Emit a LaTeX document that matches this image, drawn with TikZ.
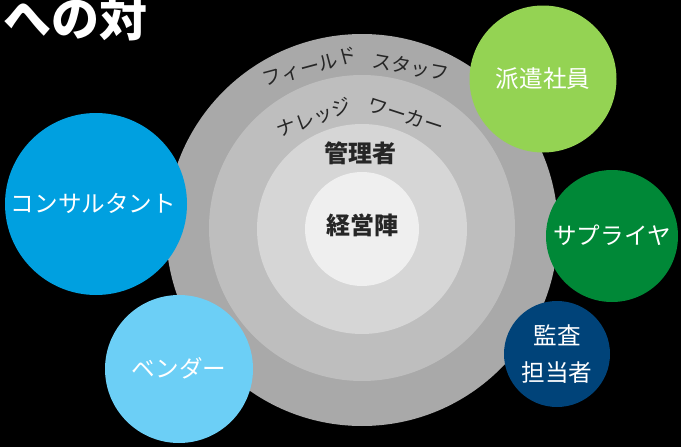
\documentclass[tikz,border=0pt]{standalone}
\usepackage{fontspec}
\setmainfont{Noto Sans CJK JP}
\definecolor{r1}{HTML}{A9A9A9}
\definecolor{r2}{HTML}{BEBEBE}
\definecolor{r3}{HTML}{D6D6D6}
\definecolor{r4}{HTML}{EFEFEF}
\definecolor{dGreen}{HTML}{94D353}
\definecolor{dBlue}{HTML}{00A0E0}
\definecolor{dSky}{HTML}{6CCFF6}
\definecolor{dForest}{HTML}{008837}
\definecolor{dNavy}{HTML}{004379}
\newcommand{\lifted}[1]{\raisebox{3pt}{#1}}
\tikzset{x=1pt,y=-1pt,
 disc/.style={circle,inner sep=0pt,text=white,font=\fontsize{23.6}{37}\selectfont,align=center,minimum size=#1},
 ringdisc/.style={circle,inner sep=0pt,minimum size=#1},
 ringtext/.style={inner sep=0pt,text=black!85,font=\fontsize{19.5}{19.5}\selectfont},
 coretext/.style={inner sep=0pt,text=black!85,font=\fontsize{24}{24}\selectfont\bfseries}}
\begin{document}
\begin{tikzpicture}
\useasboundingbox (0,0) rectangle (681,447);
\fill[black] (0,0) rectangle (681,447);
\node[ringdisc=392pt,fill=r1] (ring1) at (362,230) {};
\node[ringdisc=306pt,fill=r2] (ring2) at (362,228) {};
\node[ringdisc=210pt,fill=r3] (ring3) at (362,229) {};
\node[ringdisc=114pt,fill=r4] (ring4) at (362,229) {};
\node[ringtext,rotate=15] (t1a) at (310,67) {フィールド};
\node[ringtext,rotate=-10] (t1b) at (411,67) {スタッフ};
\node[ringtext,rotate=20] (t2a) at (314,118) {ナレッジ};
\node[ringtext,rotate=-18] (t2b) at (406,116) {ワーカー};
\node[coretext] (t3) at (360,153) {管理者};
\node[coretext] (t4) at (362,225) {経営陣};
\node[anchor=west,inner sep=0pt,text=white,font=\fontsize{48}{48}\selectfont\bfseries] (title) at (3,18) {への対};
\node[disc=147pt,fill=dGreen] (a) at (543,79) {\lifted{派遣社員}};
\node[disc=182pt,fill=dBlue] (b) at (96,204) {\kern-5pt\lifted{コンサルタント}};
\node[disc=148pt,fill=dSky] (c) at (179,369) {\lifted{ベンダー}};
\node[disc=132pt,fill=dForest] (d) at (612,236) {\lifted{サプライヤ}};
\node[disc=106pt,fill=dNavy] (e) at (557,354) {監査\\担当者};
\end{tikzpicture}
\end{document}
